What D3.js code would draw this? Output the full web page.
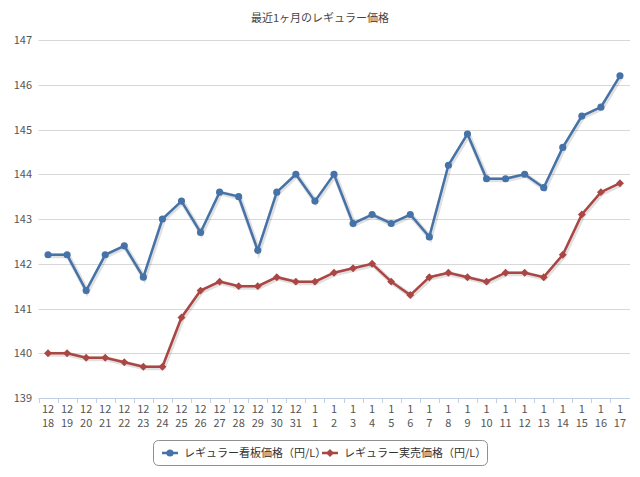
<!DOCTYPE html>
<html><head><meta charset="utf-8">
<script src="https://cdn.jsdelivr.net/npm/d3@7"></script>
<style>body{margin:0;background:#fff}text{font-family:"Noto Sans CJK JP","DejaVu Sans",sans-serif}</style>
</head><body>
<svg id="c" width="640" height="477"></svg>
<script>
const dates=["12/18","12/19","12/20","12/21","12/22","12/23","12/24","12/25","12/26","12/27","12/28","12/29","12/30","12/31","1/1","1/2","1/3","1/4","1/5","1/6","1/7","1/8","1/9","1/10","1/11","1/12","1/13","1/14","1/15","1/16","1/17"];
const signPrice=[142.2,142.2,141.4,142.2,142.4,141.7,143.0,143.4,142.7,143.6,143.5,142.3,143.6,144.0,143.4,144.0,142.9,143.1,142.9,143.1,142.6,144.2,144.9,143.9,143.9,144.0,143.7,144.6,145.3,145.5,146.2];
const salePrice=[140.0,140.0,139.9,139.9,139.8,139.7,139.7,140.8,141.4,141.6,141.5,141.5,141.7,141.6,141.6,141.8,141.9,142.0,141.6,141.3,141.7,141.8,141.7,141.6,141.8,141.8,141.7,142.2,143.1,143.6,143.8];
const yTicks=[139,140,141,142,143,144,145,146,147];
const title="最近1ヶ月のレギュラー価格";
const names=["レギュラー看板価格（円/L）","レギュラー実売価格（円/L）"];
const colors=["#4572A7","#AA4643"];

const svg=d3.select("#c");
const x=d3.scaleBand().domain(dates).range([38.5,629.5]);
const y=d3.scaleLinear().domain([139,147]).range([398,40]);
svg.append("text").attr("x",320).attr("y",22).attr("text-anchor","middle").attr("font-size",11).attr("fill","#444").text(title);
svg.append("g").selectAll("line").data(yTicks).join("line")
 .attr("x1",38.5).attr("x2",630).attr("y1",d=>Math.round(y(d))+.5).attr("y2",d=>Math.round(y(d))+.5)
 .attr("stroke",d=>d===139?"#c0d0e0":"#d8d8d8");
svg.append("g").selectAll("text").data(yTicks).join("text")
 .attr("x",32).attr("y",d=>y(d)+4).attr("text-anchor","end").attr("font-size",11).attr("fill","#555").text(d=>d);
const xa=svg.append("g");
xa.selectAll("line").data(dates).join("line").attr("x1",d=>Math.round(x(d))+.5).attr("x2",d=>Math.round(x(d))+.5).attr("y1",398).attr("y2",403).attr("stroke","#c0d0e0");
dates.forEach(d=>{const [a,b]=d.split("/");const cx=x(d)+x.bandwidth()/2;
 xa.append("text").attr("x",cx).attr("y",413).attr("text-anchor","middle").attr("font-size",11).attr("fill","#555").text(a);
 xa.append("text").attr("x",cx).attr("y",427).attr("text-anchor","middle").attr("font-size",11).attr("fill","#555").text(b);});
const cx=d=>x(d)+x.bandwidth()/2;
[signPrice,salePrice].forEach((vals,i)=>{
 const line=d3.line().x((v,j)=>cx(dates[j])).y(v=>y(v));
 svg.append("path").attr("d",line(vals)).attr("fill","none").attr("stroke","rgba(0,0,0,0.12)").attr("stroke-width",5).attr("transform","translate(1,1)");
 svg.append("path").attr("d",line(vals)).attr("fill","none").attr("stroke",colors[i]).attr("stroke-width",2.5);
 const sym=d3.symbol().type(i===0?d3.symbolCircle:d3.symbolDiamond2).size(40);
 svg.append("g").selectAll("path").data(vals).join("path")
  .attr("transform",(v,j)=>`translate(${cx(dates[j])},${y(v)})`).attr("d",sym()).attr("fill",colors[i]);
});
const lg=svg.append("g");
lg.append("rect").attr("x",153.5).attr("y",440.5).attr("width",334).attr("height",25).attr("rx",5).attr("fill","#fff").attr("stroke","#909090");
[0,1].forEach(i=>{const ox=i===0?162:322;
 lg.append("line").attr("x1",ox).attr("x2",ox+16).attr("y1",453).attr("y2",453).attr("stroke",colors[i]).attr("stroke-width",2.5);
 lg.append("path").attr("transform",`translate(${ox+8},453)`).attr("d",d3.symbol().type(i===0?d3.symbolCircle:d3.symbolDiamond2).size(40)()).attr("fill",colors[i]);
 lg.append("text").attr("x",ox+22).attr("y",457).attr("font-size",11).attr("fill","#333").text(names[i]);});
</script></body></html>
